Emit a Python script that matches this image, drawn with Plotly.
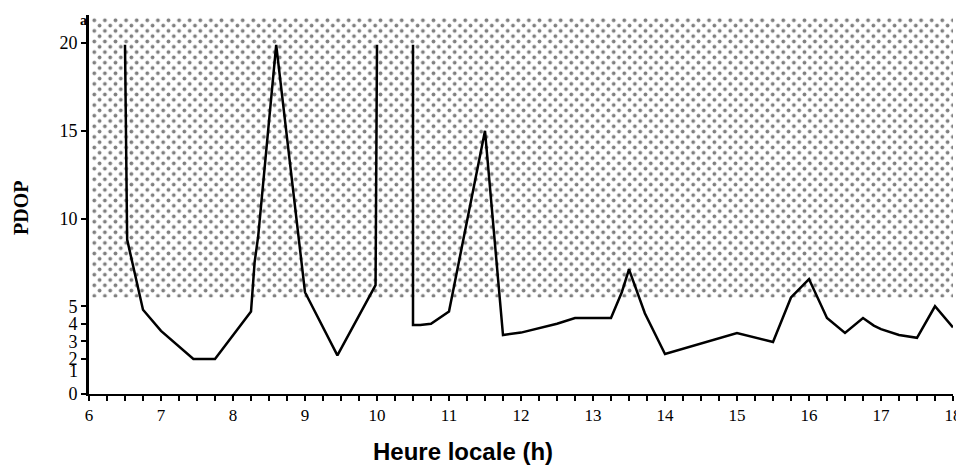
import plotly.graph_objects as go

# PDOP over local time (None = break in the curve)
hours = [6.5, 6.53, 6.75, 7.0, 7.45, 7.75, 8.25, 8.3, 8.35, 8.6, 9.0, 9.45, 9.98, 10.0,
         None,
         10.5, 10.5, 10.6, 10.75, 11.0, 11.5, 11.75, 12.0, 12.5, 12.75, 13.25, 13.4, 13.5,
         13.72, 14.0, 15.0, 15.5, 15.75, 16.0, 16.25, 16.5, 16.65, 16.75, 16.9, 17.0,
         17.25, 17.5, 17.75, 18.0]
pdop = [19.9, 8.8, 4.8, 3.6, 2.0, 2.0, 4.7, 7.5, 9.0, 19.9, 5.8, 2.2, 6.2, 19.9,
        None,
        19.9, 3.93, 3.93, 4.0, 4.7, 15.0, 3.36, 3.5, 4.0, 4.33, 4.33, 5.8, 7.1,
        4.6, 2.28, 3.48, 2.96, 5.5, 6.55, 4.33, 3.48, 4.0, 4.33, 3.9, 3.7,
        3.36, 3.2, 5.0, 3.8]

# shaded (dotted) zone: PDOP above threshold
zone_x = [6, 18, 18, 6, 6]
zone_y = [5.5, 5.5, 21.6, 21.6, 5.5]

X_RANGE = [6, 18]
Y_RANGE = [0, 21.6]
y_tickvals = [0, 2, 3, 4, 5, 10, 15, 20]
y_ticktext = ["0", "2", "3", "4", "5", "10", "15", "20"]

W, H = 964, 474
ML, MR, MT, MB = 81, 19, 7, 88
PW, PH = W - ML - MR, H - MT - MB
TILE = 10.6
OFF = TILE / 2  # stagger offset (px) of the second dot layer

fig = go.Figure()
pattern = dict(shape=".", fgcolor="black", bgcolor="rgba(0,0,0,0)", size=TILE, solidity=0.1)
# dot layer A (subplot xy)
fig.add_trace(go.Scatter(
    x=zone_x, y=zone_y, mode="lines", fill="toself", fillcolor="rgba(0,0,0,0)",
    line=dict(width=0, color="rgba(0,0,0,0)"), fillpattern=pattern,
    hoverinfo="skip", showlegend=False, xaxis="x", yaxis="y"))
# dot layer B (subplot x2y2, origin shifted by half a tile -> staggered dots)
fig.add_trace(go.Scatter(
    x=zone_x, y=zone_y, mode="lines", fill="toself", fillcolor="rgba(0,0,0,0)",
    line=dict(width=0, color="rgba(0,0,0,0)"), fillpattern=pattern,
    hoverinfo="skip", showlegend=False, xaxis="x2", yaxis="y2"))
# PDOP curve (visible axes x3/y3)
fig.add_trace(go.Scatter(
    x=hours, y=pdop, mode="lines", connectgaps=False,
    line=dict(color="black", width=2.5), showlegend=False, xaxis="x3", yaxis="y3"))

serif = "Liberation Serif, Times New Roman, serif"
hidden = dict(visible=False, showgrid=False, zeroline=False, fixedrange=True)
dx = OFF / PW
dy = OFF / PH
xspan = X_RANGE[1] - X_RANGE[0]
yspan = Y_RANGE[1] - Y_RANGE[0]

fig.update_layout(
    width=W, height=H,
    margin=dict(l=ML, r=MR, t=MT, b=MB),
    paper_bgcolor="white", plot_bgcolor="rgba(0,0,0,0)",
    font=dict(family=serif, size=18, color="black"),
    xaxis=dict(hidden, domain=[0, 1], range=X_RANGE, anchor="y"),
    yaxis=dict(hidden, domain=[0, 1], range=Y_RANGE, anchor="x"),
    xaxis2=dict(hidden, domain=[dx, 1], range=[X_RANGE[0] + dx * xspan, X_RANGE[1]], anchor="y2"),
    yaxis2=dict(hidden, domain=[0, 1 - dy], range=[Y_RANGE[0], Y_RANGE[1] - dy * yspan], anchor="x2"),
    xaxis3=dict(domain=[0, 1], range=X_RANGE, anchor="y3",
                tickvals=list(range(6, 19)), ticks="outside", ticklen=5,
                tickwidth=1.5, tickcolor="black", showline=True, linecolor="black",
                linewidth=2, showgrid=False, zeroline=False, automargin=False,
                minor=dict(dtick=0.25, tick0=6, ticks="outside", ticklen=5, tickwidth=1.5,
                           tickcolor="black", showgrid=False),
                tickfont=dict(family=serif, size=17)),
    yaxis3=dict(domain=[0, 1], range=Y_RANGE, anchor="x3",
                tickvals=y_tickvals, ticktext=y_ticktext, ticks="outside",
                ticklen=5, tickwidth=2, tickcolor="black", showline=True, linecolor="black",
                linewidth=3, showgrid=False, zeroline=False, automargin=False,
                tickfont=dict(family=serif, size=18)),
    annotations=[
        dict(x=0, xref="paper", y=1.3, yref="y3", text="1", showarrow=False,
             xanchor="right", xshift=-9, font=dict(family=serif, size=18)),
        dict(x=0, xref="paper", y=21.3, yref="y3", text="<b>a</b>", showarrow=False,
             xanchor="right", xshift=0, font=dict(family=serif, size=14)),
        dict(x=-0.078, xref="paper", y=0.49, yref="paper", xanchor="center",
             yanchor="middle", text="<b>PDOP</b>", showarrow=False, textangle=-90,
             font=dict(family=serif, size=20)),
        dict(x=0.433, xref="paper", y=-0.153, yref="paper", yanchor="middle",
             text="<b>Heure locale (h)</b>", showarrow=False,
             font=dict(family="Liberation Sans, Arial, sans-serif", size=24)),
    ],
)

fig.write_html("out.html")
